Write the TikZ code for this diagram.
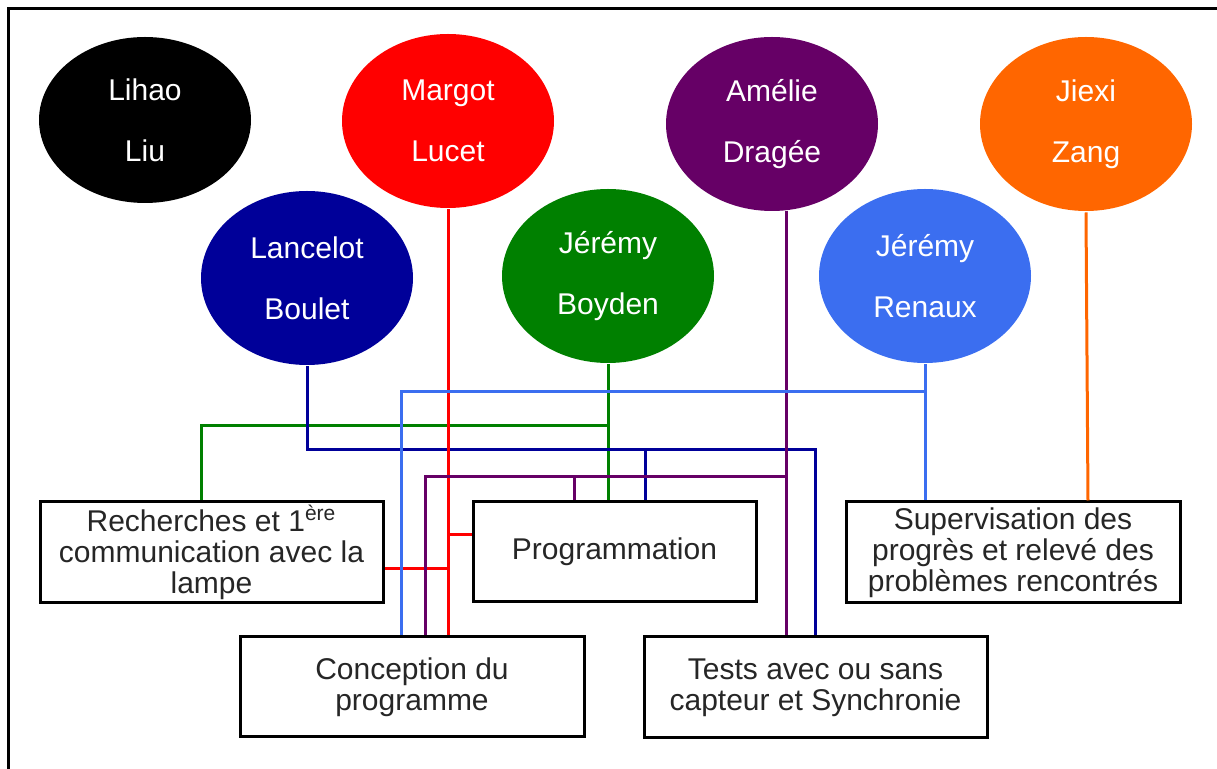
\documentclass[tikz,border=0pt]{standalone}
\usepackage{fontspec}
\setmainfont{Liberation Sans}
\usetikzlibrary{shapes.geometric,calc}

\definecolor{lanblue}{RGB}{0,0,153}
\definecolor{boygreen}{RGB}{0,128,0}
\definecolor{amepurple}{RGB}{102,0,102}
\definecolor{renblue}{RGB}{59,110,240}
\definecolor{jiorange}{RGB}{255,102,0}

\begin{document}
\begin{tikzpicture}[x=0.5pt,y=-0.5pt,-,line width=1.5pt,
  person/.style={ellipse, minimum width=106pt, minimum height=87pt, inner sep=0pt,
    align=center, text=white, font=\fontsize{15}{30.5}\selectfont},
  task/.style={draw, rectangle, align=center, inner sep=0pt, text=black!85,
    font=\fontsize{15}{15.5}\selectfont}]
  \useasboundingbox (0,0) rectangle (1217,769);
  \draw (8,769) -- (8,9) -- (1217,9);

  \node (liu)      [person, fill=black, minimum height=83pt] at (145,120) {Lihao\\Liu};
  \node (lucet)    [person, fill=red]       at (448,121) {Margot\\Lucet};
  \node (dragee)   [person, fill=amepurple] at (772,124) {Amélie\\Dragée};
  \node (jiexi)    [person, fill=jiorange]  at (1086,124) {Jiexi\\Zang};
  \node (lancelot) [person, fill=lanblue]   at (307,278) {Lancelot\\Boulet};
  \node (boyden)   [person, fill=boygreen]  at (608,276) {Jérémy\\Boyden};
  \node (renaux)   [person, fill=renblue]   at (925,276) {Jérémy\\Renaux};

  \node (rech)  [task, minimum width=171.5pt, minimum height=50.5pt] at (211.5,552.5)
    {Recherches et 1\textsuperscript{ère}\\communication avec la\\lampe};
  \node (prog)  [task, minimum width=141.5pt, minimum height=50pt] at (614.5,552) {Programmation};
  \node (sup)   [task, minimum width=167pt, minimum height=50.5pt] at (1013,552.5)
    {Supervisation des\\progrès et relevé des\\problèmes rencontrés};
  \node (conc)  [task, minimum width=172pt, minimum height=50pt] at (412,687) {Conception du\\programme};
  \node (tests) [task, minimum width=171.5pt, minimum height=50.5pt] at (815.5,687.5)
    {Tests avec ou sans\\capteur et Synchronie};

  % bus levels
  \coordinate (renbus) at (0,392);
  \coordinate (boybus) at (0,426);
  \coordinate (lanbus) at (0,450);
  \coordinate (amebus) at (0,477);

  % Boyden
  \draw[boygreen] (boyden.south) -- (boyden.south |- prog.north);
  \draw[boygreen] (boyden.south |- boybus) -| ($(rech.north)+(-10.5,0)$);
  % Lancelot
  \coordinate (proglan) at ($(prog.north)+(30.5,0)$);
  \draw[lanblue] (lancelot.south) |- (lanbus -| tests.north) -- (tests.north);
  \draw[lanblue] (proglan |- lanbus) -- (proglan);
  % Margot
  \coordinate (progred) at ($(prog.west)+(0,-17)$);
  \coordinate (rechred) at ($(rech.east)+(0,16.5)$);
  \draw[red] (lucet.south) -- (lucet.south |- conc.north);
  \draw[red] (lucet.south |- progred) -- (progred);
  \draw[red] (rechred) -- (lucet.south |- rechred);
  % Amelie
  \coordinate (ameline) at ($(dragee.south)+(14,-1)$);
  \coordinate (concame) at ($(conc.north)+(13,0)$);
  \coordinate (progame) at ($(prog.north)+(-40.5,0)$);
  \draw[amepurple] (ameline) -- (ameline |- tests.north);
  \draw[amepurple] (ameline |- amebus) -| (concame);
  \draw[amepurple] (progame |- amebus) -- (progame);
  % Renaux
  \coordinate (concren) at ($(conc.north)+(-11,0)$);
  \draw[renblue] (renaux.south) -- (renaux.south |- sup.north);
  \draw[renblue] (renaux.south |- renbus) -| (concren);
  % Jiexi
  \coordinate (supjie) at ($(sup.north)+(75,0)$);
  \draw[jiorange] (jiexi.south) -- (supjie);
\end{tikzpicture}
\end{document}
